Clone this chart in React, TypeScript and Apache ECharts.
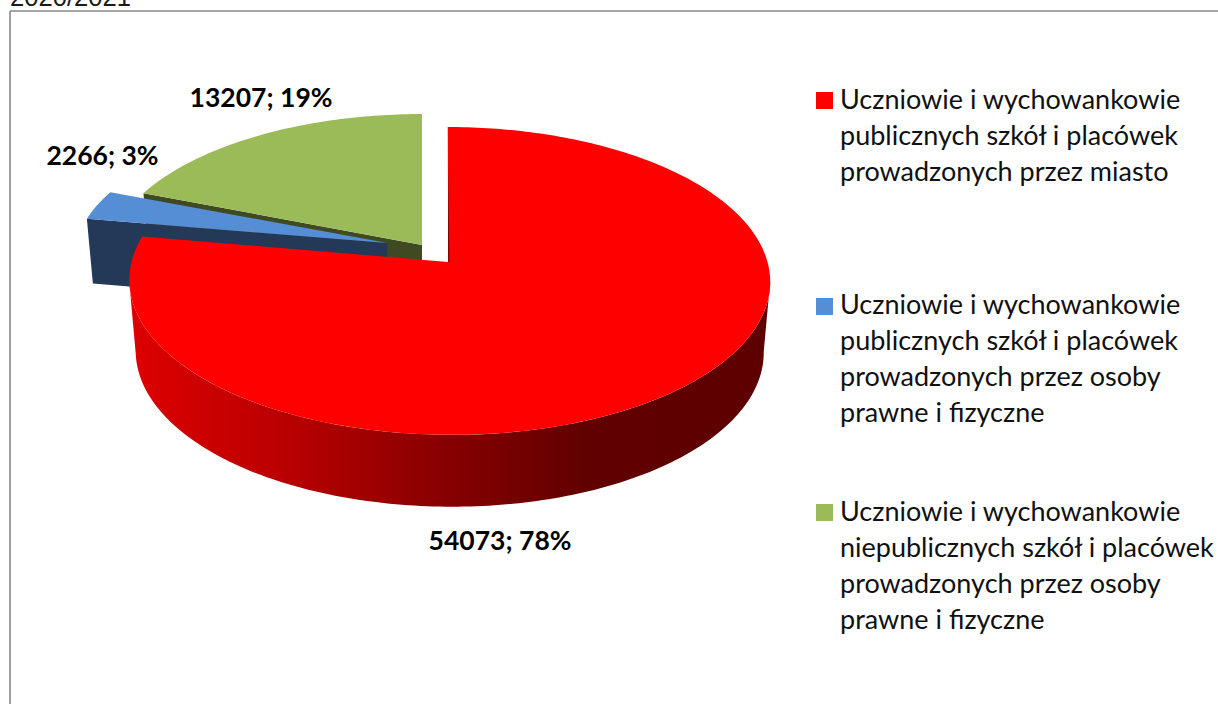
import React, { useEffect, useRef } from "react";
import * as echarts from "echarts";

const seriesNames = ["miasto", "osoby publiczne", "niepubliczne"];
const values = [54073, 2266, 13207];
const topColors = ["#ff0000", "#558ed5", "#9bbb59"];
const cutColors = ["#7a0000", "#243858", "#3f4a22"];
const legendLines = [
  ["Uczniowie i wychowankowie", "publicznych szkół i placówek", "prowadzonych przez miasto"],
  ["Uczniowie i wychowankowie", "publicznych szkół i placówek", "prowadzonych przez osoby", "prawne i fizyczne"],
  ["Uczniowie i wychowankowie", "niepublicznych szkół i placówek", "prowadzonych przez osoby", "prawne i fizyczne"],
];
const titleText = "2020/2021";

// geometry of the projected, exploded pie (one entry per slice)
const geometry = [
  { cx: 449.5, cy: 262, ax: 448.3, ay: 262, sx: 1, sy: 1, depth: 70.4, skew: 2 },
  { cx: 387.5, cy: 243, ax: 387.5, ay: 243, sx: 0.98, sy: 0.95, depth: 65, skew: 0 },
  { cx: 422, cy: 245, ax: 422, ay: 245, sx: 0.985, sy: 0.97, depth: 70, skew: 0 },
];
const labelCenters = [
  [500, 540],
  [102.5, 155],
  [261, 97],
];
const legendY = [98.5, 303.5, 510.5];
const swatchY = [92, 298, 504];
const RX = 318;
const RY = 151.6;
const K = 0.123;
const BOTTOM_SCALE = 0.98;

const total = values.reduce((a, b) => a + b, 0);

function angles(i: number): [number, number] {
  let acc = 0;
  for (let j = 0; j < i; j++) acc += values[j];
  return [(acc / total) * 360, ((acc + values[i]) / total) * 360];
}

function project(i: number, deg: number) {
  const g = geometry[i];
  const t = (deg * Math.PI) / 180;
  const u = Math.sin(t);
  const v = -Math.cos(t);
  const w = 1 - K * v;
  return { x: g.cx + (RX * g.sx * u + g.skew * v) / w, y: g.cy + (RY * g.sy * v) / w, v };
}

function projectBottom(i: number, deg: number) {
  const g = geometry[i];
  const p = project(i, deg);
  return {
    x: g.ax + (p.x - g.ax) * BOTTOM_SCALE,
    y: p.y + g.depth * (1 + 0.07 * p.v) + (p.y - g.ay) * (BOTTOM_SCALE - 1),
  };
}

function renderSlice(_params: any, api: any) {
  const i = api.value(0) as number;
  const g = geometry[i];
  const [a0, a1] = angles(i);
  const children: any[] = [];
  const n = Math.max(4, Math.ceil(a1 - a0));
  const arc: number[][] = [];
  for (let k = 0; k <= n; k++) {
    const p = project(i, a0 + ((a1 - a0) * k) / n);
    arc.push([p.x, p.y]);
  }
  if (i === 0) {
    // wall between the two widest points of the rim (straight tangent sides)
    const widest = (Math.acos(-K) * 180) / Math.PI;
    const wall: number[][] = [];
    const bottom: number[][] = [];
    for (let d = widest; d <= 360 - widest; d += 1) {
      const p = project(i, d);
      const b = projectBottom(i, d);
      wall.push([p.x, p.y]);
      bottom.unshift([b.x, b.y]);
    }
    children.push({
      type: "polygon",
      shape: { points: wall.concat(bottom) },
      style: {
        fill: new echarts.graphic.LinearGradient(0, 0, 1, 0, [
          { offset: 0, color: "#de0000" },
          { offset: 0.25, color: "#b80000" },
          { offset: 0.5, color: "#860000" },
          { offset: 0.72, color: "#600000" },
          { offset: 1, color: "#5e0000" },
        ]),
      },
    });
  } else {
    const p = project(i, a0);
    const b = projectBottom(i, a0);
    children.push({
      type: "polygon",
      shape: {
        points: [
          [g.ax, g.ay],
          [p.x, p.y],
          [b.x, b.y],
          [g.ax, g.ay + g.depth],
        ],
      },
      style: { fill: cutColors[i] },
    });
  }
  children.push({
    type: "polygon",
    shape: { points: [[g.ax, g.ay], ...arc] },
    style: { fill: topColors[i] },
  });
  if (i === 0) {
    // sliver of the cut face beside the first edge
    const top = project(i, a0);
    children.push({
      type: "polygon",
      shape: {
        points: [
          [g.ax - 0.2, g.ay],
          [g.ax + 1.2, g.ay],
          [top.x + 0.4, top.y + 30],
        ],
      },
      style: { fill: cutColors[0] },
    });
  }
  return { type: "group", children };
}

function buildOption() {
  const graphic: any[] = [
    {
      type: "text",
      x: 10,
      y: 10,
      silent: true,
      style: {
        text: titleText,
        fontFamily: "Liberation Sans",
        fontSize: 25.6,
        fill: "#1a1a1a",
        verticalAlign: "bottom",
      },
    },
    { type: "line", shape: { x1: 10, y1: 11, x2: 1218, y2: 11 }, style: { stroke: "#8a8a8a", lineWidth: 1.6 } },
    { type: "line", shape: { x1: 10, y1: 11, x2: 10, y2: 704 }, style: { stroke: "#8a8a8a", lineWidth: 1.6 } },
  ];
  values.forEach((v, i) => {
    graphic.push({
      type: "text",
      x: labelCenters[i][0],
      y: labelCenters[i][1],
      style: {
        text: `${v}; ${Math.round((v / total) * 100)}%`,
        fontFamily: "Lato",
        fontWeight: "bold",
        fontSize: 26.5,
        fill: "#000",
        align: "center",
        verticalAlign: "middle",
      },
    });
    graphic.push({
      type: "rect",
      shape: { x: 816, y: swatchY[i], width: 17, height: 17 },
      style: { fill: topColors[i] },
    });
    legendLines[i].forEach((line, k) => {
      graphic.push({
        type: "text",
        x: 840,
        y: legendY[i] + k * 36,
        style: {
          text: line,
          fontFamily: "Lato",
          fontSize: 27,
          fill: "#111",
          align: "left",
          verticalAlign: "middle",
        },
      });
    });
  });
  return {
    animation: false,
    backgroundColor: "#ffffff",
    graphic,
    series: [
      {
        type: "custom",
        name: "Uczniowie",
        coordinateSystem: "none",
        renderItem: renderSlice,
        silent: true,
        // painted back to front: third slice first
        data: seriesNames.map((name, i) => ({ name, value: [i, values[i]] })).reverse(),
      },
    ],
  };
}

export default function App() {
  const ref = useRef<HTMLDivElement>(null);
  useEffect(() => {
    const chart = echarts.init(ref.current!, undefined, { renderer: "svg" });
    chart.setOption(buildOption() as any);
    return () => chart.dispose();
  }, []);
  return <div ref={ref} style={{ position: "absolute", left: 0, top: 0, width: 1218, height: 704 }} />;
}
